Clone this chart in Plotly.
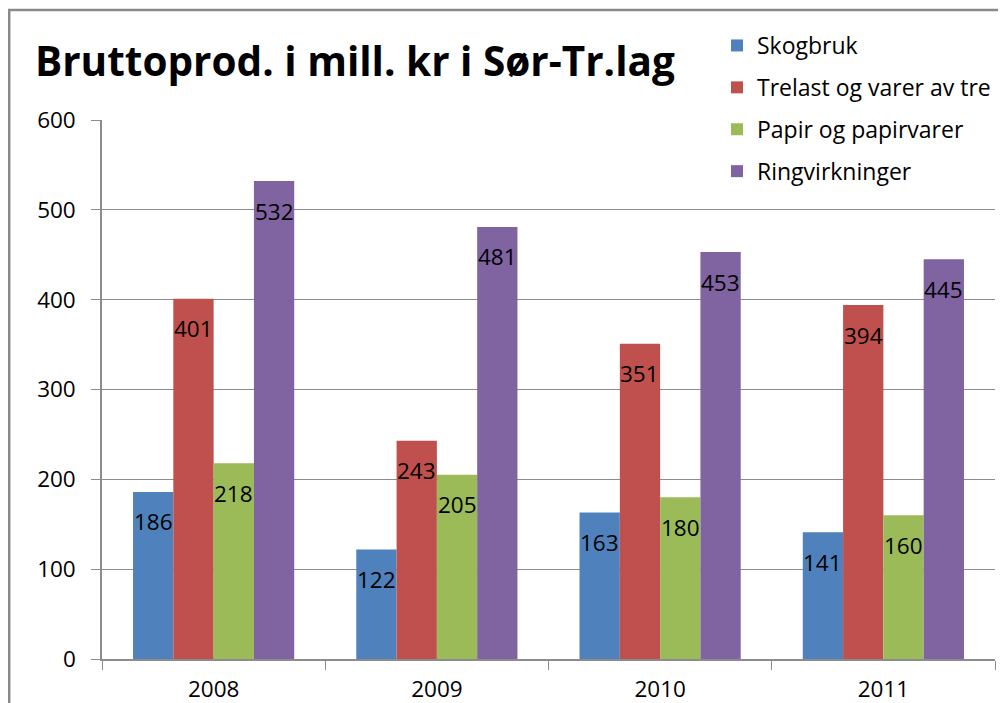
import plotly.graph_objects as go

years = ["2008", "2009", "2010", "2011"]
series_names = ["Skogbruk", "Trelast og varer av tre", "Papir og papirvarer", "Ringvirkninger"]
skogbruk = [186, 122, 163, 141]
trelast = [401, 243, 351, 394]
papir = [218, 205, 180, 160]
ring = [532, 481, 453, 445]
colors = ["#4F81BD", "#C0504D", "#9BBB59", "#8064A2"]
y_ticks = [0, 100, 200, 300, 400, 500, 600]

FONT = "Open Sans, sans-serif"
BARGAP = 0.278

fig = go.Figure()
all_series = [skogbruk, trelast, papir, ring]
for i, (name, vals) in enumerate(zip(series_names, all_series)):
    fig.add_trace(go.Bar(
        x=years, y=vals, name=name,
        marker=dict(color=colors[i], line=dict(width=0)),
        legendgroup=f"g{i}",
    ))

# value labels just inside the top of each bar
n = len(all_series)
bw = (1 - BARGAP) / n
for i, vals in enumerate(all_series):
    for j, v in enumerate(vals):
        fig.add_annotation(x=j + (i - (n - 1) / 2) * bw, y=v, xref="x", yref="y",
                           text=str(v), showarrow=False, yanchor="middle",
                           yshift=-30, font=dict(family=FONT, size=22.5, color="black"))

W, H = 1006, 703
L, R, T, B = 94, 19, 112, 52
pw, ph = W - L - R, H - T - B

def px_x(px):
    return (px - L) / pw

def px_y(py):
    return (H - B - py) / ph

fig.update_layout(
    width=W, height=H,
    margin=dict(l=L, r=R, t=T, b=B, autoexpand=False),
    paper_bgcolor="white", plot_bgcolor="white",
    barmode="group", bargap=BARGAP, bargroupgap=0,
    font=dict(family=FONT, size=22.5, color="black"),
    title=dict(text="<b>Bruttoprod. i mill. kr i Sør-Tr.lag</b>",
               x=27 / W, xanchor="left", xref="container",
               y=1 - 54 / H, yanchor="middle", yref="container",
               font=dict(family=FONT, size=40.5, color="black")),
    legend=dict(x=px_x(709), y=px_y(16), xanchor="left", yanchor="top",
                bgcolor="rgba(0,0,0,0)", borderwidth=0,
                font=dict(family=FONT, size=23, color="black"),
                tracegroupgap=9, traceorder="grouped"),
    showlegend=True,
)
fig.update_yaxes(range=[0, 600], tickvals=y_ticks, showgrid=True, automargin=False,
                 gridcolor="#8C8C8C", gridwidth=1.2,
                 showline=True, linecolor="#8C8C8C", linewidth=1.5,
                 ticks="outside", ticklen=9, tickcolor="#8C8C8C", tickwidth=1.2,
                 ticklabelstandoff=11,
                 tickfont=dict(family=FONT, size=22.5, color="black"), zeroline=False)
fig.update_xaxes(showline=True, linecolor="#8C8C8C", linewidth=1.5, automargin=False,
                 ticks="outside", tickson="boundaries", ticklen=9,
                 tickcolor="#8C8C8C", tickwidth=1.2, ticklabelstandoff=9,
                 tickfont=dict(family=FONT, size=22.5, color="black"))

# chart border (top and left edges visible)
fig.add_shape(type="path", xref="paper", yref="paper",
              path=f"M {px_x(1.2)} {px_y(720)} L {px_x(1.2)} {px_y(2)} L {px_x(1020)} {px_y(2)}",
              line=dict(color="#8A8A8A", width=2.5), layer="above")

fig.write_html("out.html")
